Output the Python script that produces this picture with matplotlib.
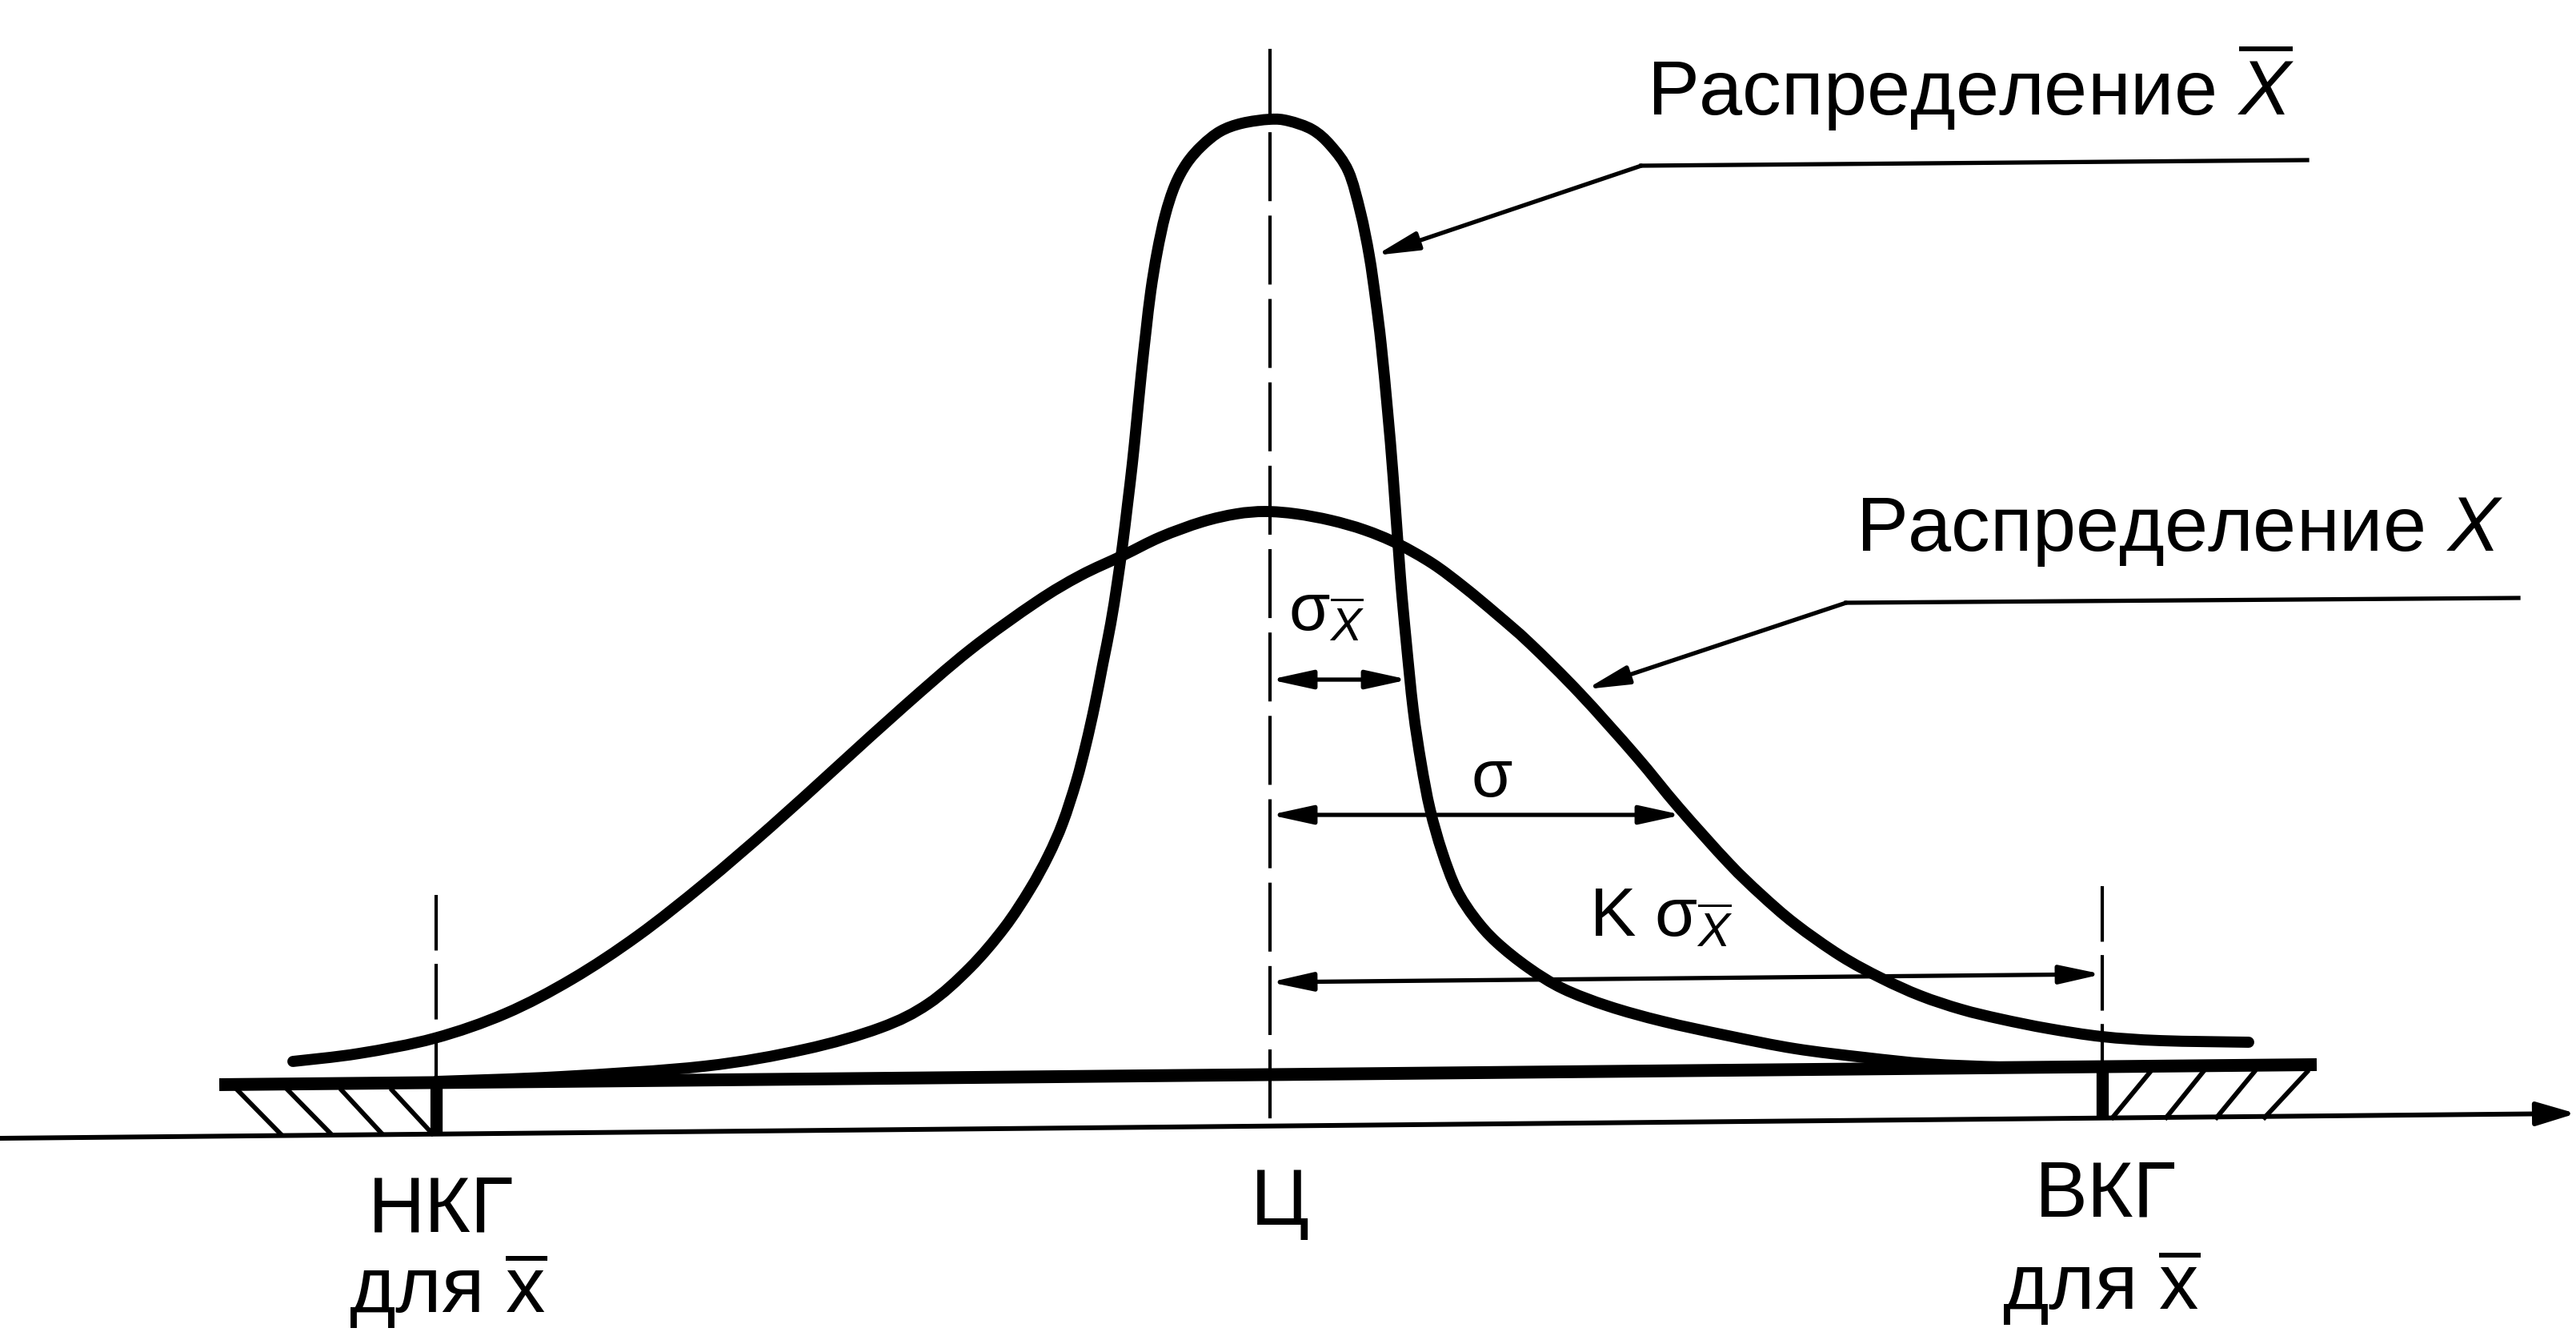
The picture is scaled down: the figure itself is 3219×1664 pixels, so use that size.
import matplotlib
matplotlib.use('Agg')
import matplotlib.pyplot as plt
from matplotlib.path import Path
from matplotlib.patches import PathPatch

plt.rcParams['font.family'] = ['Liberation Sans', 'DejaVu Sans']
plt.rcParams['mathtext.fontset'] = 'custom'
plt.rcParams['mathtext.rm'] = 'Liberation Sans'
plt.rcParams['mathtext.it'] = 'Liberation Sans:italic'
plt.rcParams['mathtext.bf'] = 'Liberation Sans:bold'
plt.rcParams['lines.scale_dashes'] = False

# ---------------- data (pixel coordinates) ----------------
# distribution of X-bar (narrow curve)
xbar_curve_x = [545, 700, 880, 1005, 1100, 1160, 1212, 1255, 1287, 1310, 1328, 1345, 1357,
                1368, 1378, 1388, 1396, 1403, 1409, 1415, 1420, 1426, 1432, 1438, 1446,
                1456, 1468, 1483, 1502, 1525, 1552, 1587, 1610, 1640, 1663, 1685, 1700,
                1711, 1719, 1726, 1734, 1741, 1750, 1757, 1766, 1776, 1787, 1802, 1820,
                1843, 1870, 1910, 1953, 2010, 2078, 2160, 2243, 2330, 2409, 2500, 2550]
xbar_curve_y = [1352, 1346, 1333, 1312, 1285, 1255, 1210, 1160, 1112, 1070, 1029, 977, 931,
                882, 831, 780, 730, 680, 631, 580, 531, 470, 415, 365, 316,
                270, 233, 205, 183, 165, 155, 150, 152, 163, 183, 215, 266,
                320, 375, 432, 515, 598, 722, 800, 888, 955, 1012, 1065, 1112,
                1148, 1178, 1210, 1236, 1258, 1277, 1295, 1311, 1322, 1330, 1334, 1335]

# distribution of X (wide curve)
x_curve_x = [366, 449, 543, 632, 715, 797, 880, 963, 1046, 1129, 1212, 1295, 1350, 1403,
             1450, 1502, 1545, 1581, 1620, 1663, 1705, 1746, 1790, 1829, 1870, 1912, 1974,
             2044, 2098, 2160, 2200, 2243, 2300, 2351, 2400, 2451, 2500, 2560, 2627, 2700, 2810]
x_curve_y = [1327, 1317, 1298, 1267, 1224, 1170, 1105, 1034, 959, 884, 813, 753, 720, 695,
             672, 653, 643, 640, 643, 651, 663, 680, 705, 734, 768, 805, 867,
             945, 1010, 1079, 1118, 1155, 1195, 1223, 1245, 1262, 1274, 1286, 1296, 1301, 1303]

# key positions on the axis: НКГ, Ц, ВКГ
limit_names = ['НКГ', 'Ц', 'ВКГ']
limit_x = [545, 1587, 2627]

# labels
label_xbar = 'Распределение $\\overline{X}$'
label_x = 'Распределение $X$'
label_sigma_xbar = '$\\mathrm{\\sigma}_{\\overline{X}}$'
label_sigma = '$\\mathrm{\\sigma}$'
label_k_sigma = 'K $\\mathrm{\\sigma}_{\\overline{X}}$'
label_for_xbar = 'для $\\overline{\\mathrm{x}}$'

# ---------------- figure ----------------
W, H = 3219, 1665
fig = plt.figure(figsize=(W / 100, H / 100), dpi=100)
ax = fig.add_axes([0, 0, 1, 1])
ax.set_xlim(0, W)
ax.set_ylim(H, 0)
ax.axis('off')

K = 'black'


def smooth_path(xs, ys):
    """Cubic Bezier path passing through the given points (Catmull-Rom tangents)."""
    pts = list(zip(xs, ys))
    n = len(pts)
    verts = [pts[0]]
    codes = [Path.MOVETO]
    for i in range(n - 1):
        p0 = pts[i - 1] if i > 0 else pts[i]
        p1 = pts[i]
        p2 = pts[i + 1]
        p3 = pts[i + 2] if i + 2 < n else pts[i + 1]
        c1 = (p1[0] + (p2[0] - p0[0]) / 6.0, p1[1] + (p2[1] - p0[1]) / 6.0)
        c2 = (p2[0] - (p3[0] - p1[0]) / 6.0, p2[1] - (p3[1] - p1[1]) / 6.0)
        verts += [c1, c2, p2]
        codes += [Path.CURVE4, Path.CURVE4, Path.CURVE4]
    return Path(verts, codes)


# horizontal axis with arrow
ax.annotate('', xy=(3219, 1392), xytext=(0, 1423),
            arrowprops=dict(arrowstyle='-|>,head_length=30,head_width=9', mutation_scale=1,
                            lw=4.3, color=K, shrinkA=0, shrinkB=0))

# thick control band
ax.plot([274, 2895], [1356, 1331], color=K, lw=11.5, solid_capstyle='butt')

# thick verticals at the limits
ax.plot([limit_x[0], limit_x[0]], [1355, 1418], color=K, lw=11, solid_capstyle='butt')
ax.plot([limit_x[2], limit_x[2]], [1333, 1397], color=K, lw=11, solid_capstyle='butt')

# hatching
for xt, xb in [(297, 350), (360, 413), (427, 477), (490, 540)]:
    ax.plot([xt, xb], [1363, 1417], color=K, lw=4.2)
for xb, xt in [(2640, 2687), (2707, 2753), (2770, 2817), (2830, 2883)]:
    ax.plot([xb, xt], [1397, 1340], color=K, lw=4.2)

# dashed verticals
ax.plot([limit_x[1], limit_x[1]], [62, 1408], color=K, lw=3, linestyle=(0, (62, 13)))
ax.plot([limit_x[0], limit_x[0]], [1119, 1352], color=K, lw=3, linestyle=(0, (50, 12)))
ax.plot([limit_x[2], limit_x[2]], [1108, 1330], color=K, lw=3, linestyle=(0, (50, 12)))

# curves
ax.add_patch(PathPatch(smooth_path(xbar_curve_x, xbar_curve_y), fill=False, edgecolor=K,
                       lw=10, joinstyle='round', capstyle='round'))
ax.add_patch(PathPatch(smooth_path(x_curve_x, x_curve_y), fill=False, edgecolor=K,
                       lw=10, joinstyle='round', capstyle='round'))

# leader lines
arrow_kw = dict(arrowstyle='-|>,head_length=32,head_width=7', mutation_scale=1,
                lw=3.8, color=K, shrinkA=0, shrinkB=0)
ax.plot([2051, 2883], [208, 201], color=K, lw=3.8)
ax.annotate('', xy=(1719, 320), xytext=(2051, 208), arrowprops=arrow_kw)
ax.plot([2307, 3147], [754, 748], color=K, lw=3.8)
ax.annotate('', xy=(1982, 862), xytext=(2307, 754), arrowprops=arrow_kw)

# dimension arrows
dim_kw = dict(arrowstyle='<|-|>,head_length=32,head_width=7', mutation_scale=1,
              lw=3.8, color=K, shrinkA=0, shrinkB=0)
ax.annotate('', xy=(1760, 850), xytext=(1587, 850), arrowprops=dim_kw)
ax.annotate('', xy=(2102, 1019), xytext=(1587, 1019), arrowprops=dim_kw)
ax.annotate('', xy=(2627, 1218), xytext=(1587, 1228), arrowprops=dim_kw)

# texts
ax.text(2058, 144, label_xbar, fontsize=70, ha='left', va='baseline', color=K)
ax.text(2319, 688, label_x, fontsize=70, ha='left', va='baseline', color=K)
ax.text(1610, 788, label_sigma_xbar, fontsize=60, ha='left', va='baseline', color=K)
ax.text(1838, 995, label_sigma, fontsize=60, ha='left', va='baseline', color=K)
ax.text(1986, 1170, label_k_sigma, fontsize=62, ha='left', va='baseline', color=K)

ax.text(551, 1539, limit_names[0], fontsize=71, ha='center', va='baseline', color=K)
ax.text(560, 1640, label_for_xbar, fontsize=71, ha='center', va='baseline', color=K)
ax.text(1563, 1529, limit_names[1], fontsize=71, ha='left', va='baseline', color=K)
ax.text(2631, 1520, limit_names[2], fontsize=71, ha='center', va='baseline', color=K)
ax.text(2626, 1636, label_for_xbar, fontsize=71, ha='center', va='baseline', color=K)

fig.savefig('out.png', dpi=100, facecolor='white')
